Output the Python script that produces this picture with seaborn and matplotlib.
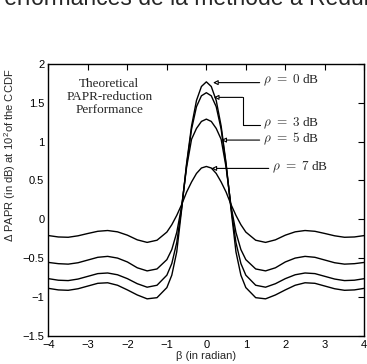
import numpy as np
import pandas as pd
import matplotlib
matplotlib.use("Agg")
import matplotlib.pyplot as plt
import seaborn as sns

# ---- data ----
beta = [-4.0, -3.75, -3.5, -3.25, -3.0, -2.75, -2.5, -2.25, -2.0, -1.75, -1.5, -1.25,
        -1.0, -0.875, -0.75, -0.625, -0.5, -0.375, -0.25, -0.125, 0.0,
        0.125, 0.25, 0.375, 0.5, 0.625, 0.75, 0.875, 1.0,
        1.25, 1.5, 1.75, 2.0, 2.25, 2.5, 2.75, 3.0, 3.25, 3.5, 3.75, 4.0]

rho0 = [-0.89, -0.91, -0.915, -0.895, -0.86, -0.825, -0.818, -0.85, -0.91, -0.975, -1.025, -1.01,
        -0.88, -0.72, -0.42, 0.13, 0.72, 1.20, 1.53, 1.71, 1.77,
        1.71, 1.53, 1.20, 0.72, 0.13, -0.42, -0.72, -0.88,
        -1.01, -1.025, -0.975, -0.91, -0.85, -0.818, -0.825, -0.86, -0.895, -0.915, -0.91, -0.89]

rho3 = [-0.765, -0.785, -0.79, -0.77, -0.735, -0.70, -0.692, -0.715, -0.765, -0.83, -0.875, -0.85,
        -0.72, -0.57, -0.30, 0.15, 0.70, 1.16, 1.45, 1.59, 1.63,
        1.59, 1.45, 1.16, 0.70, 0.15, -0.30, -0.57, -0.72,
        -0.85, -0.875, -0.83, -0.765, -0.715, -0.692, -0.70, -0.735, -0.77, -0.79, -0.785, -0.765]

rho5 = [-0.556, -0.572, -0.578, -0.56, -0.525, -0.49, -0.478, -0.50, -0.55, -0.625, -0.665, -0.64,
        -0.52, -0.39, -0.17, 0.17, 0.67, 1.03, 1.17, 1.26, 1.29,
        1.26, 1.17, 1.03, 0.67, 0.17, -0.17, -0.39, -0.52,
        -0.64, -0.665, -0.625, -0.55, -0.50, -0.478, -0.49, -0.525, -0.56, -0.578, -0.572, -0.556]

rho7 = [-0.21, -0.228, -0.232, -0.213, -0.183, -0.155, -0.145, -0.162, -0.205, -0.265, -0.298, -0.27,
        -0.165, -0.07, 0.05, 0.19, 0.35, 0.48, 0.59, 0.66, 0.68,
        0.66, 0.59, 0.48, 0.35, 0.19, 0.05, -0.07, -0.165,
        -0.27, -0.298, -0.265, -0.205, -0.162, -0.145, -0.155, -0.183, -0.213, -0.232, -0.228, -0.21]

series_names = ["rho0", "rho3", "rho5", "rho7"]
xticks = [-4, -3, -2, -1, 0, 1, 2, 3, 4]
yticks = [-1.5, -1, -0.5, 0, 0.5, 1, 1.5, 2]

df = pd.DataFrame({"beta": beta * 4,
                   "val": rho0 + rho3 + rho5 + rho7,
                   "curve": sum([[n] * len(beta) for n in series_names], [])})

sns.set_style("white")
plt.rcParams["font.family"] = ["Liberation Sans", "DejaVu Sans"]
plt.rcParams["mathtext.fontset"] = "cm"

fig = plt.figure(figsize=(3.67, 3.64), dpi=100)
ax = fig.add_axes([0.132, 0.0777, 0.8605, 0.7465])

sns.lineplot(data=df, x="beta", y="val", units="curve", estimator=None,
             color="black", lw=1.0, ax=ax, sort=False)

ax.set_xlim(-4, 4)
ax.set_ylim(-1.5, 2)
ax.set_xticks(xticks)
ax.set_xticklabels([f"{t:g}".replace("-", "\u2212") for t in xticks])
ax.set_yticks(yticks)
ax.set_yticklabels([f"{t:g}".replace("-", "\u2212") for t in yticks])
ax.tick_params(direction="in", length=4, width=0.8, top=True, right=True,
               labelsize=8, pad=3, colors="black")
for s in ax.spines.values():
    s.set_color("black")
    s.set_linewidth(1.0)

ax.set_xlabel("\u03b2 (in radian)", fontsize=8, labelpad=1)
ax.set_ylabel("\u0394 PAPR (in dB) at 10$^\\mathregular{2}$of the CCDF", fontsize=8)
ax.yaxis.set_label_coords(-0.095, 0.665)

serif = ["Liberation Serif", "DejaVu Serif"]
sans = ["Liberation Sans", "DejaVu Sans"]
ax.text(-2.46, 1.58, "Theoretical\nPAPR-reduction\nPerformance", ha="center", va="center",
        fontsize=9.5, family=serif, linespacing=1.12)

arrowkw = dict(arrowstyle="-|>", fc="white", ec="black", lw=0.8, mutation_scale=7,
               shrinkA=0, shrinkB=0)


def rho_label(x, y, num):
    ax.text(x, y, r"$\rho\ =\ \mathsf{%d}$ dB" % num, fontsize=9.5, family=serif,
            va="center")


# rho = 0
ax.annotate("", xy=(0.17, 1.76), xytext=(1.35, 1.76), arrowprops=arrowkw)
rho_label(1.44, 1.79, 0)
# rho = 3
ax.plot([1.35, 0.92, 0.92], [1.21, 1.21, 1.57], color="black", lw=0.8)
ax.annotate("", xy=(0.19, 1.57), xytext=(0.92, 1.57), arrowprops=arrowkw)
rho_label(1.44, 1.24, 3)
# rho = 5
ax.annotate("", xy=(0.38, 1.02), xytext=(1.35, 1.02), arrowprops=arrowkw)
rho_label(1.44, 1.04, 5)
# rho = 7
ax.annotate("", xy=(0.13, 0.655), xytext=(1.58, 0.655), arrowprops=arrowkw)
rho_label(1.66, 0.67, 7)

fig.text(-0.03, 0.985, "Performances de la m\u00e9thode \u00e0 R\u00e9duire le PAPR",
         fontsize=16.5, ha="left", va="baseline", family=sans)

fig.savefig("out.png", dpi=100, facecolor="white")
